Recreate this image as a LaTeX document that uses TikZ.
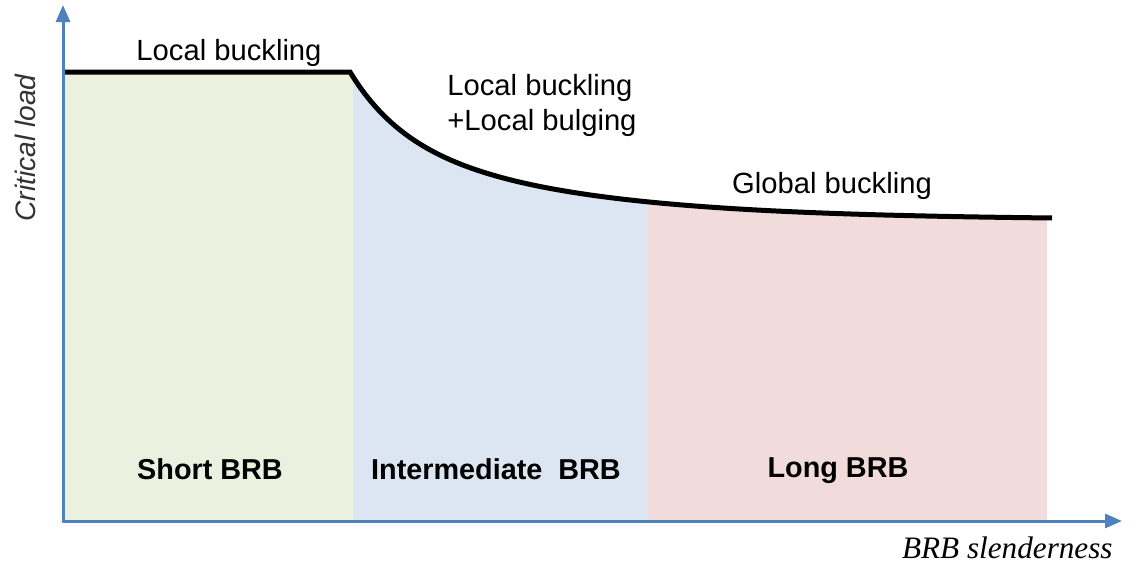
\documentclass[tikz,border=0pt]{standalone}
\usepackage{fontspec}
\setmainfont{Liberation Sans}
\newfontfamily\serifit{Liberation Serif}
\usetikzlibrary{arrows.meta}

\definecolor{axisblue}{HTML}{4F81BD}
\definecolor{shortfill}{HTML}{EBF1DE}
\definecolor{midfill}{HTML}{DCE6F2}
\definecolor{longfill}{HTML}{F2DCDB}

\tikzset{
  axisline/.style={axisblue, line width=1.5pt, line cap=round, -{Triangle[length=8.5pt,width=7pt]}},
  loadcurve/.style={line width=2.5pt},
  modetext/.style={anchor=base, inner sep=0pt, font=\fontsize{14.6}{17.5}\selectfont},
  zonetext/.style={anchor=base, inner sep=0pt, font=\bfseries\fontsize{14.4}{17}\selectfont},
}

\begin{document}
\begin{tikzpicture}[x=0.5pt,y=-0.5pt]
\useasboundingbox (0,0) rectangle (1132,563);
% 1 unit = 1 pixel of the original, y pointing down
\coordinate (O) at (63,521);
\coordinate (ytip) at (63,5);
\coordinate (xtip) at (1122,521);

% zones below the critical load curve
\begin{scope}
\clip (63,72) -- (350,72) -- plot[domain=350:1052, samples=140, variable=\t] ({\t},{220-58*exp(-(\t-350)/50)-90*exp(-(\t-350)/185)}) -- (1052,521) -- (63,521) -- cycle;
\fill[shortfill] (63,0) rectangle (353,521);
\fill[midfill] (353,0) rectangle (648,521);
\fill[longfill] (648,0) rectangle (1047,521);
\end{scope}

% critical load curve
\draw[loadcurve] (63,72) -- (350,72) -- plot[domain=350:1052, samples=140, variable=\t] ({\t},{220-58*exp(-(\t-350)/50)-90*exp(-(\t-350)/185)});

% axes
\draw[axisline] (O) -- (ytip);
\draw[axisline] (O) -- (xtip);

\node[modetext] (localtxt) at (229,60) {Local buckling};
\node[modetext, anchor=base west] (mixtxta) at (447,95) {Local buckling};
\node[modetext, anchor=base west] (mixtxtb) at (447,130) {+Local bulging};
\node[modetext] (globaltxt) at (832,193) {Global buckling};

\node[zonetext] (shorttxt) at (210,479) {Short BRB};
\node[zonetext] (midtxt) at (496,479) {Intermediate\ \ BRB};
\node[zonetext] (longtxt) at (838,477) {Long BRB};

\node[rotate=90, inner sep=0pt, text=black!80, font=\itshape\fontsize{14.1}{17}\selectfont] (ylabel) at (25,148) {Critical load};
\node[anchor=base east, inner sep=0pt, font=\serifit\itshape\fontsize{15.6}{18}\selectfont] (xlabel) at (1113,558) {BRB slenderness};
\end{tikzpicture}
\end{document}
